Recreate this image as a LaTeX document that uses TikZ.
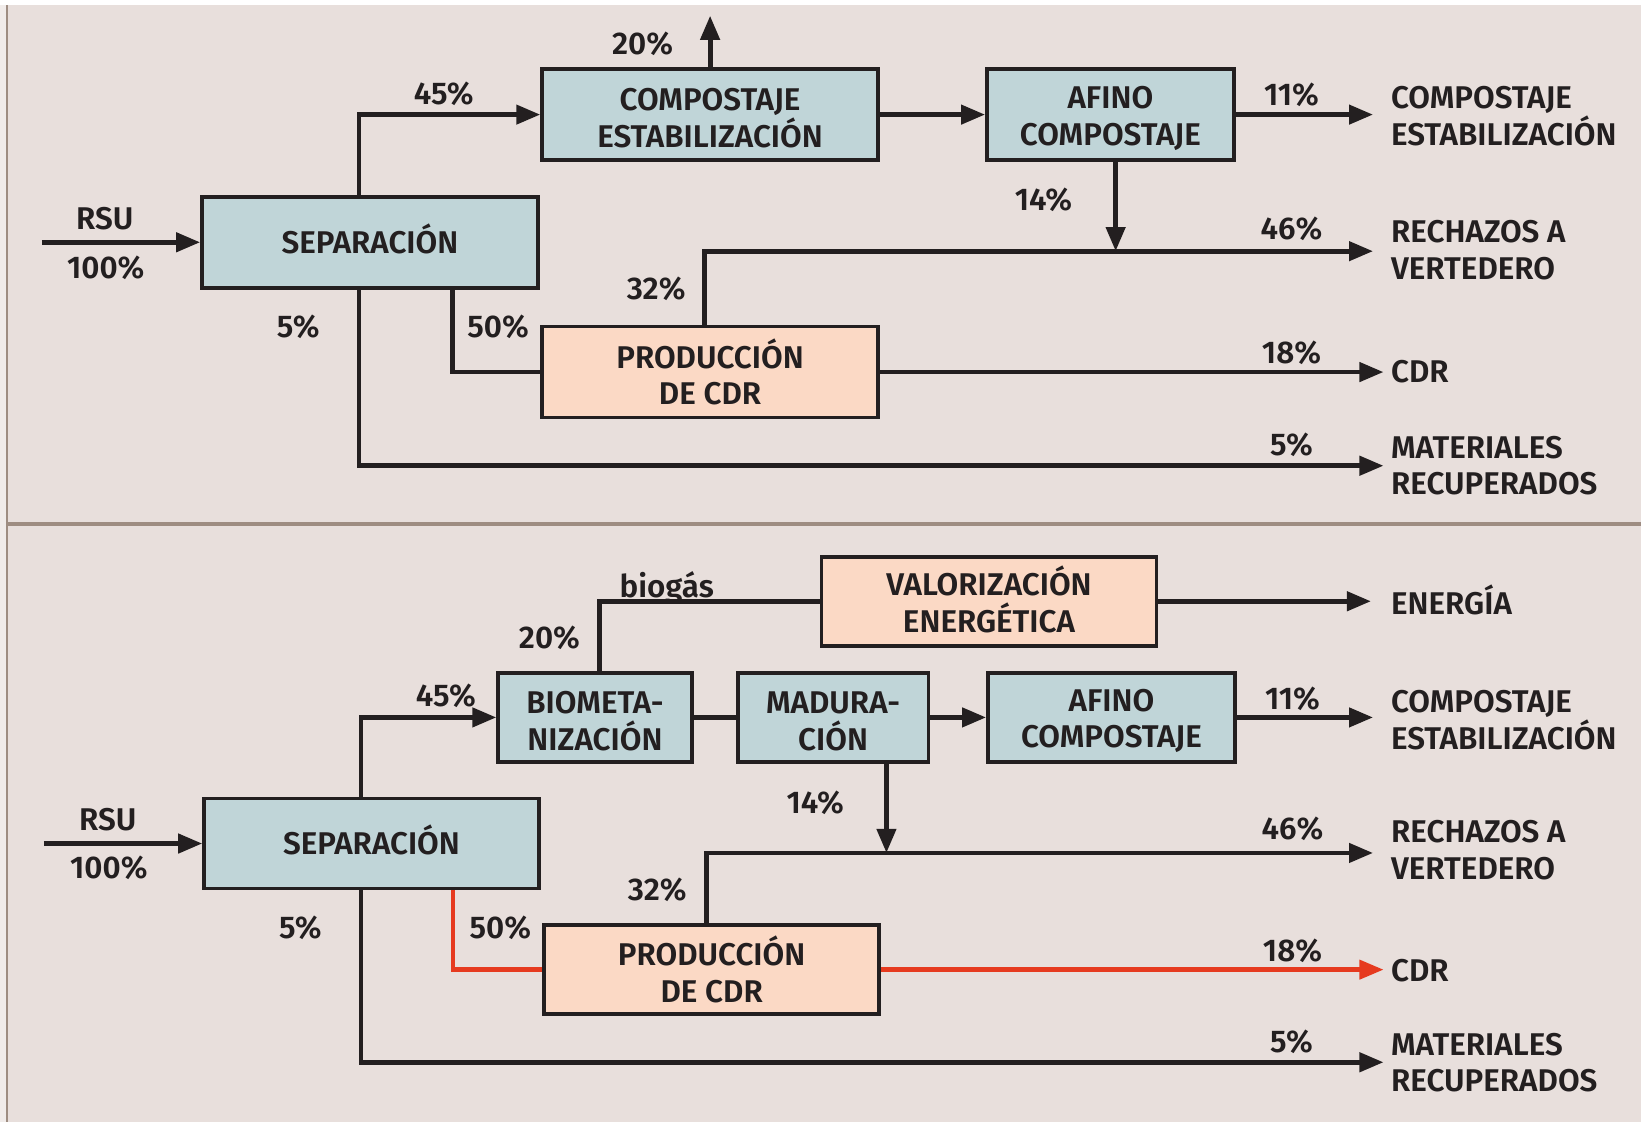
\documentclass[tikz,border=0pt]{standalone}
\usepackage{fontspec}
\setmainfont{Fira Sans SemiBold}
\usetikzlibrary{arrows.meta}

\definecolor{panel}{HTML}{E8DFDC}
\definecolor{frame}{HTML}{9E8D82}
\definecolor{boxblue}{HTML}{C0D5D8}
\definecolor{boxpeach}{HTML}{FBD9C5}
\definecolor{ink}{HTML}{231F20}
\definecolor{flowred}{HTML}{E63A1F}

% struts that even out the text block of a box
\newcommand{\topstrut}{\rule{0pt}{28pt}}
\newcommand{\botstrut}{\rule[-4pt]{0pt}{4pt}}

\tikzset{
  txt/.style={text=ink, font=\fontsize{30}{35}\selectfont},
  procbox/.style={txt, draw=ink, line width=3.4pt, inner sep=0pt, align=center},
  bluebox/.style={procbox, fill=boxblue},
  peachbox/.style={procbox, fill=boxpeach},
  onerow/.style={text height=21pt, text depth=0pt},
  pct/.style={txt, inner sep=0pt, text height=21pt, text depth=0pt},
  outlbl/.style={txt, inner sep=0pt, anchor=west, align=left},
  flow/.style={draw=ink, line width=4.6pt},
  redflow/.style={draw=flowred, line width=4.2pt},
  tip/.style={-{Triangle[length=23pt,width=18pt]}},
}

\begin{document}
\begin{tikzpicture}[x=1pt,y=-1pt]
\useasboundingbox (0,0) rectangle (1568,1072);
\fill[white] (0,0) rectangle (1568,1072);
\fill[panel!60!white] (0,5) rectangle (7,1072);
% the two panels
\fill[panel] (7,5) rectangle (1568,1072);
\draw[frame, line width=2.2pt] (7,5) -- (7,1072);
\draw[frame, line width=3.6pt] (7,500.5) -- (1568,500.5);

% ---------------- upper scheme ----------------
\node[bluebox, onerow, minimum width=321pt, minimum height=87pt] (sepA) at (353.5,231.5) {SEPARACIÓN};
\node[bluebox, minimum width=321pt, minimum height=87pt] (compA) at (678.5,109.5) {\topstrut COMPOSTAJE\\ESTABILIZACIÓN};
\node[bluebox, minimum width=236pt, minimum height=87pt] (afinoA) at (1061,109.5) {\topstrut AFINO\\COMPOSTAJE};
\node[peachbox, minimum width=321pt, minimum height=87pt] (prodA) at (678.5,355.5) {PRODUCCIÓN\\DE CDR};

\coordinate (inA) at (40,231.5);
\coordinate (gasA) at (678.5,15);
\coordinate (j14A) at (1066,240);
\coordinate (outA1) at (1312,109.5);
\coordinate (outA2) at (1312,240);
\coordinate (outA3) at (1322,355.5);
\coordinate (outA4) at (1322,445);

\draw[flow, tip] (inA) -- (sepA.west);
\draw[flow, tip] ([xshift=-10.5pt]sepA.north) |- (compA.west);
\draw[flow, tip] (compA.north) -- (gasA);
\draw[flow, tip] (compA.east) -- (afinoA.west);
\draw[flow, tip] (afinoA.east) -- (outA1);
\draw[flow, tip] (afinoA.south -| j14A) -- (j14A);
\draw[flow, tip] ([xshift=-5.5pt]prodA.north) |- (outA2);
\draw[flow] ([xshift=78.5pt]sepA.south) |- (prodA.west);
\draw[flow, tip] (prodA.east) -- (outA3);
\draw[flow, tip] ([xshift=-10.5pt]sepA.south) |- (outA4);

\node[pct] (rsuA) at (100,209) {RSU};
\node[pct] (totA) at (101,256) {100\%};
\node[pct] (p45A) at (424,89) {45\%};
\node[pct] (p20A) at (614,42) {20\%};
\node[pct] (p11A) at (1234,90) {11\%};
\node[pct] (p14A) at (997,191) {14\%};
\node[pct] (p46A) at (1234,218) {46\%};
\node[pct] (p32A) at (627,276) {32\%};
\node[pct] (p5aA) at (285,312) {5\%};
\node[pct] (p50A) at (476,312) {50\%};
\node[pct] (p18A) at (1234,337) {18\%};
\node[pct] (p5bA) at (1234,425) {5\%};

\node[outlbl] (oA1) at (1329,111) {COMPOSTAJE\\ESTABILIZACIÓN};
\node[outlbl] (oA2) at (1329,239) {RECHAZOS A\\VERTEDERO};
\node[outlbl] (oA3) at (1329,355) {CDR};
\node[outlbl] (oA4) at (1329,445) {MATERIALES\\RECUPERADOS};

% ---------------- lower scheme ----------------
\node[bluebox, onerow, minimum width=320pt, minimum height=86pt] (sepB) at (355,806) {SEPARACIÓN};
\node[bluebox, minimum width=185pt, minimum height=85pt] (bioB) at (568.5,685.5) {\topstrut BIOMETA-\\NIZACIÓN};
\node[bluebox, minimum width=182pt, minimum height=85pt] (madB) at (796,685.5) {\topstrut MADURA-\\CIÓN};
\node[bluebox, minimum width=236pt, minimum height=85pt] (afinoB) at (1062,685.5) {\topstrut AFINO\\COMPOSTAJE};
\node[peachbox, minimum width=320pt, minimum height=85pt] (valB) at (945,574.5) {VALORIZACIÓN\\ENERGÉTICA\botstrut};
\node[peachbox, minimum width=320pt, minimum height=85pt] (prodB) at (680,926.5) {PRODUCCIÓN\\DE CDR};

\coordinate (inB) at (42,806);
\coordinate (j14B) at (847,815);
\coordinate (outB0) at (1310,574.5);
\coordinate (outB1) at (1312,685.5);
\coordinate (outB2) at (1312,815);
\coordinate (outB3) at (1322,926.5);
\coordinate (outB4) at (1322,1015);

\draw[flow, tip] (inB) -- (sepB.west);
\draw[flow, tip] ([xshift=-10pt]sepB.north) |- (bioB.west);
\draw[flow] ([xshift=4.5pt]bioB.north) |- (valB.west);
\draw[flow, tip] (valB.east) -- (outB0);
\draw[flow] (bioB.east) -- (madB.west);
\draw[flow, tip] (madB.east) -- (afinoB.west);
\draw[flow, tip] (afinoB.east) -- (outB1);
\draw[flow, tip] (madB.south -| j14B) -- (j14B);
\draw[flow, tip] ([xshift=-5pt]prodB.north) |- (outB2);
\draw[redflow] ([xshift=78pt]sepB.south) |- (prodB.west);
\draw[redflow, tip] (prodB.east) -- (outB3);
\draw[flow, tip] ([xshift=-10pt]sepB.south) |- (outB4);

\node[pct] (rsuB) at (103,783) {RSU};
\node[pct] (totB) at (104,829) {100\%};
\node[pct] (p45B) at (426,665) {45\%};
\node[pct] (gasB) at (637,560) {biogás};
\node[pct] (p20B) at (525,609) {20\%};
\node[pct] (p11B) at (1235,667) {11\%};
\node[pct] (p14B) at (779,767) {14\%};
\node[pct] (p46B) at (1235,792) {46\%};
\node[pct] (p32B) at (628,850) {32\%};
\node[pct] (p5aB) at (287,886) {5\%};
\node[pct] (p50B) at (478,886) {50\%};
\node[pct] (p18B) at (1235,908) {18\%};
\node[pct] (p5bB) at (1234,995) {5\%};

\node[outlbl] (oB0) at (1329,573) {ENERGÍA};
\node[outlbl] (oB1) at (1329,688) {COMPOSTAJE\\ESTABILIZACIÓN};
\node[outlbl] (oB2) at (1329,812.5) {RECHAZOS A\\VERTEDERO};
\node[outlbl] (oB3) at (1329,927) {CDR};
\node[outlbl] (oB4) at (1329,1015.5) {MATERIALES\\RECUPERADOS};
\end{tikzpicture}
\end{document}
